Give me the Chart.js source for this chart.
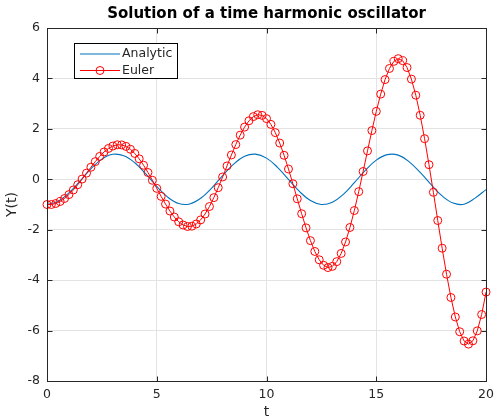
<!DOCTYPE html>
<html>
<head>
<meta charset="utf-8">
<script src="https://cdn.jsdelivr.net/npm/chart.js@4/dist/chart.umd.min.js"></script>
<style>
  body { margin: 0; background: #fff; }
  #wrap { width: 500px; height: 417px; }
</style>
</head>
<body>
<div id="wrap"><canvas id="chart"></canvas></div>
<script>
// analytic solution, sampled every 0.5
const tAnalytic = [0, 0.5, 1, 1.5, 2, 2.5, 3, 3.5, 4, 4.5, 5, 5.5, 6, 6.5, 7, 7.5, 8, 8.5, 9, 9.5, 10,
    10.5, 11, 11.5, 12, 12.5, 13, 13.5, 14, 14.5, 15, 15.5, 16, 16.5, 17, 17.5, 18, 18.5, 19, 19.5, 20];
const yAnalytic = [-1, -0.878, -0.540, -0.071, 0.416, 0.801, 0.990, 0.936, 0.654, 0.211, -0.284,
    -0.709, -0.960, -0.977, -0.754, -0.347, 0.146, 0.602, 0.911, 0.997, 0.839,
    0.476, -0.004, -0.483, -0.844, -0.998, -0.907, -0.595, -0.137, 0.355, 0.760,
    0.978, 0.958, 0.691, 0.275, -0.215, -0.660, -0.944, -0.989, -0.746, -0.408];

// euler points
const tEuler = [0, 0.2, 0.4, 0.6, 0.8, 1, 1.2, 1.4, 1.6, 1.8, 2, 2.2, 2.4, 2.6, 2.8, 3, 3.2, 3.4, 3.6, 3.8,
    4, 4.2, 4.4, 4.6, 4.8, 5, 5.2, 5.4, 5.6, 5.8, 6, 6.2, 6.4, 6.6, 6.8, 7, 7.2, 7.4, 7.6, 7.8,
    8, 8.2, 8.4, 8.6, 8.8, 9, 9.2, 9.4, 9.6, 9.8, 10, 10.2, 10.4, 10.6, 10.8, 11, 11.2, 11.4, 11.6, 11.8,
    12, 12.2, 12.4, 12.6, 12.8, 13, 13.2, 13.4, 13.6, 13.8, 14, 14.2, 14.4, 14.6, 14.8, 15, 15.2, 15.4, 15.6, 15.8,
    16, 16.2, 16.4, 16.6, 16.8, 17, 17.2, 17.4, 17.6, 17.8, 18, 18.2, 18.4, 18.6, 18.8, 19, 19.2, 19.4, 19.6, 19.8, 20];
const yEuler = [-1, -1, -0.96, -0.88, -0.762, -0.608, -0.424, -0.216, 0.010, 0.244,
    0.477, 0.701, 0.906, 1.083, 1.223, 1.320, 1.368, 1.364, 1.304, 1.191,
    1.025, 0.811, 0.556, 0.269, -0.040, -0.360, -0.679, -0.983, -1.260, -1.497,
    -1.685, -1.812, -1.872, -1.859, -1.772, -1.610, -1.378, -1.080, -0.728, -0.333,
    0.092, 0.529, 0.964, 1.377, 1.751, 2.070, 2.320, 2.486, 2.560, 2.534,
    2.406, 2.177, 1.851, 1.438, 0.951, 0.407, -0.176, -0.774, -1.366, -1.927,
    -2.433, -2.862, -3.193, -3.411, -3.500, -3.453, -3.266, -2.941, -2.486, -1.912,
    -1.239, -0.490, 0.309, 1.127, 1.933, 2.694, 3.378, 3.954, 4.395, 4.677,
    4.784, 4.704, 4.432, 3.973, 3.335, 2.539, 1.610, 0.579, -0.516, -1.635,
    -2.733, -3.765, -4.688, -5.461, -6.046, -6.413, -6.537, -6.406, -6.012, -5.363, -4.473];

const seriesNames = ['Analytic', 'Euler'];
const chartTitle = 'Solution of a time harmonic oscillator';

const FONT = 'DejaVu Sans';
const AXIS = '#262626';

// box round the axes + ticks pointing inward + title over the axes + legend inside
const boxPlugin = {
    id: 'box',
    afterDraw(chart) {
        const ctx = chart.ctx;
        const a = chart.chartArea;
        const l = Math.round(a.left) + 0.5, r = Math.round(a.right) + 0.5;
        const t = Math.round(a.top) + 0.5, b = Math.round(a.bottom) + 0.5;
        ctx.save();
        ctx.strokeStyle = AXIS;
        ctx.lineWidth = 1;
        ctx.strokeRect(l, t, r - l, b - t);
        ctx.beginPath();
        chart.scales.x.ticks.forEach(tk => {
            const x = Math.round(chart.scales.x.getPixelForValue(tk.value)) + 0.5;
            ctx.moveTo(x, b); ctx.lineTo(x, b - 5);
            ctx.moveTo(x, t); ctx.lineTo(x, t + 5);
        });
        chart.scales.y.ticks.forEach(tk => {
            const y = Math.round(chart.scales.y.getPixelForValue(tk.value)) + 0.5;
            ctx.moveTo(l, y); ctx.lineTo(l + 5, y);
            ctx.moveTo(r, y); ctx.lineTo(r - 5, y);
        });
        ctx.stroke();

        // title, centred on the axes
        ctx.fillStyle = '#000';
        ctx.font = 'bold 15px "' + FONT + '"';
        ctx.textAlign = 'center';
        ctx.textBaseline = 'middle';
        ctx.fillText(chartTitle, (a.left + a.right) / 2, 14);

        // legend
        const lx = 74.5, ly = 43.5, lw = 103, lh = 35;
        ctx.fillStyle = '#fff';
        ctx.fillRect(lx, ly, lw, lh);
        ctx.strokeStyle = '#000';
        ctx.strokeRect(lx, ly, lw, lh);
        ctx.font = '12.5px "' + FONT + '"';
        ctx.textAlign = 'left';
        chart.data.datasets.forEach((ds, i) => {
            const yy = 54 + i * 16.5;
            ctx.strokeStyle = ds.borderColor;
            ctx.lineWidth = 1;
            ctx.beginPath();
            ctx.moveTo(80, yy); ctx.lineTo(120, yy);
            ctx.stroke();
            if (ds.pointRadius > 0) {
                ctx.beginPath();
                ctx.arc(100, yy, ds.pointRadius, 0, Math.PI * 2);
                ctx.stroke();
            }
            ctx.fillStyle = '#262626';
            ctx.fillText(ds.label, 122, yy);
        });
        ctx.restore();
    }
};

const ctx = document.getElementById('chart').getContext('2d');
const myChart = new Chart(ctx, {
    type: 'line',
    data: {
        datasets: [{
            label: seriesNames[0],
            data: tAnalytic.map((t, i) => ({ x: t, y: yAnalytic[i] })),
            borderColor: '#0072BD',
            borderWidth: 1.1,
            pointRadius: 0,
            tension: 0.4,
            fill: false,
            order: 1
        }, {
            label: seriesNames[1],
            data: tEuler.map((t, i) => ({ x: t, y: yEuler[i] })),
            borderColor: '#ff0000',
            borderWidth: 1,
            pointRadius: 4,
            pointBorderWidth: 1,
            pointBorderColor: '#ff0000',
            pointBackgroundColor: 'rgba(0,0,0,0)',
            fill: false,
            clip: false,
            order: 0
        }]
    },
    options: {
        responsive: true,
        maintainAspectRatio: false,
        animation: false,
        layout: { padding: { right: 11, left: 0, top: 28, bottom: 0 } },
        plugins: {
            legend: { display: false },
            tooltip: { enabled: false },
            title: { display: false }
        },
        scales: {
            x: {
                type: 'linear',
                min: 0,
                max: 20,
                afterFit: s => { s.height = 36; },
                ticks: { stepSize: 5, color: AXIS, font: { family: FONT, size: 12.5 }, padding: 6, maxRotation: 0 },
                grid: { color: '#e3e3e3', drawTicks: false },
                border: { display: false },
                title: { display: true, text: 't', color: AXIS, font: { family: FONT, size: 14 }, padding: { top: 0, bottom: -4 } }
            },
            y: {
                type: 'linear',
                min: -8,
                max: 6,
                afterFit: s => { s.width = 47; },
                ticks: { stepSize: 2, color: AXIS, font: { family: FONT, size: 12.5 }, padding: 7 },
                grid: { color: '#e3e3e3', drawTicks: false },
                border: { display: false },
                title: { display: true, text: 'Y(t)', color: AXIS, font: { family: FONT, size: 14 }, padding: { top: 4, bottom: 0 } }
            }
        }
    },
    plugins: [boxPlugin]
});
</script>
</body>
</html>
